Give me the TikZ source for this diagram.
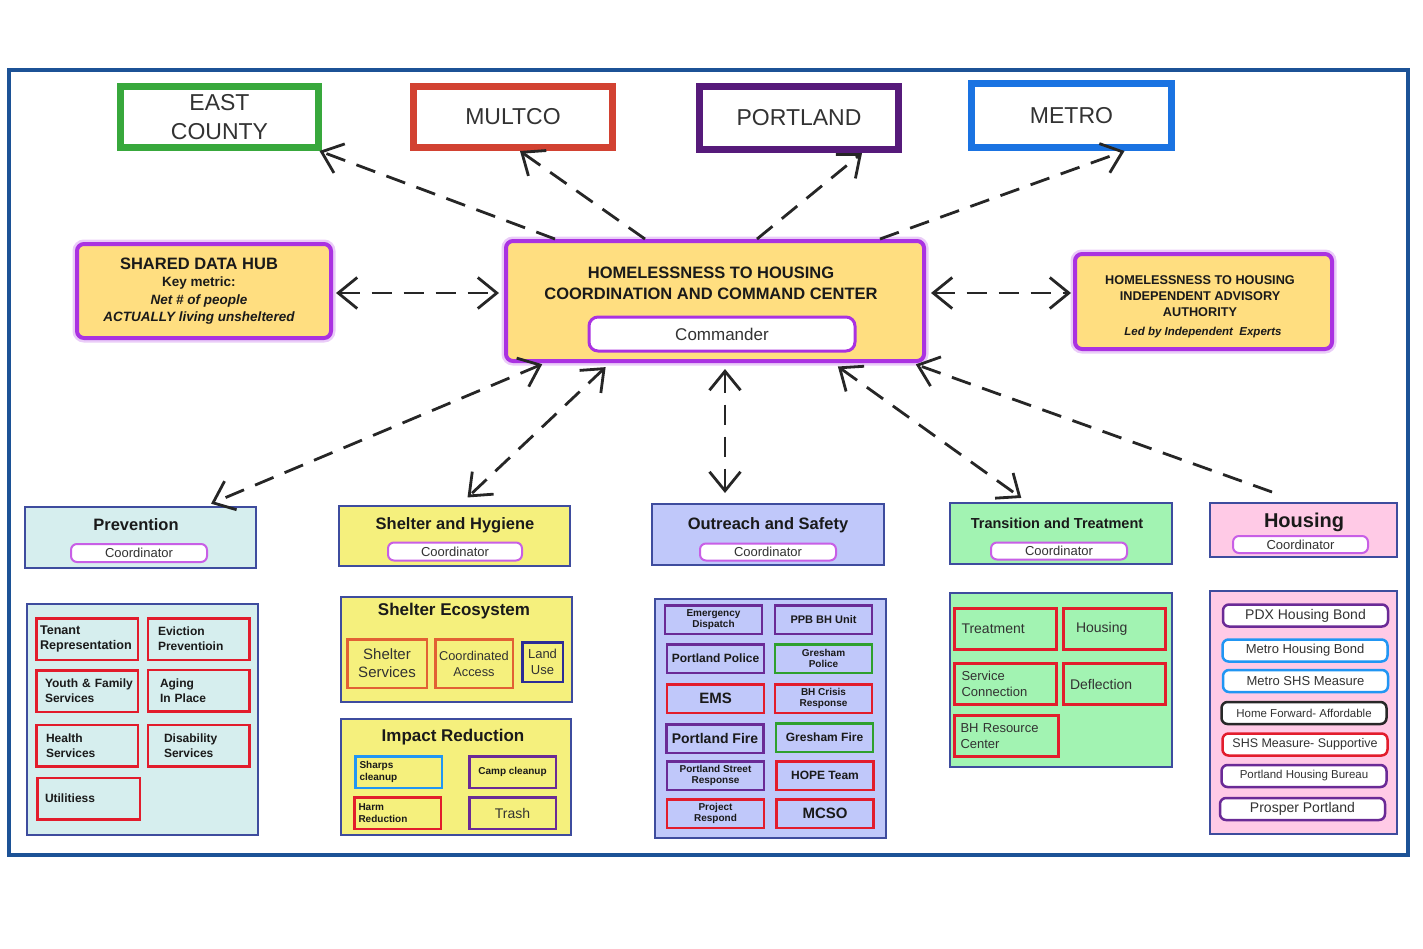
\documentclass[tikz,border=0pt]{standalone}
\usepackage{fontspec}
\setmainfont{Liberation Sans}
\usetikzlibrary{arrows.meta, positioning}

\definecolor{framblue}{RGB}{28,82,150}
\definecolor{ecgreen}{RGB}{56,168,60}
\definecolor{mured}{RGB}{210,66,50}
\definecolor{pdpurple}{RGB}{86,26,122}
\definecolor{meblue}{RGB}{26,115,226}
\definecolor{glow}{RGB}{170,50,225}
\definecolor{hubfill}{RGB}{255,222,128}
\definecolor{ink}{RGB}{26,26,26}
\definecolor{txtgray}{RGB}{50,50,50}
\definecolor{grpblue}{RGB}{62,76,158}
\definecolor{pvfill}{RGB}{214,238,238}
\definecolor{shfill}{RGB}{245,240,125}
\definecolor{oufill}{RGB}{192,200,250}
\definecolor{trfill}{RGB}{162,243,178}
\definecolor{hofill}{RGB}{255,202,230}
\definecolor{coordv}{RGB}{200,95,230}
\definecolor{itred}{RGB}{226,28,44}
\definecolor{itorange}{RGB}{226,96,52}
\definecolor{itnavy}{RGB}{44,44,150}
\definecolor{itblue}{RGB}{33,150,243}
\definecolor{itpurple}{RGB}{106,42,150}
\definecolor{itgreen}{RGB}{46,160,46}
\definecolor{itdark}{RGB}{40,40,40}

\newcommand{\sz}[2]{\fontsize{#1}{#2}\selectfont}
\hyphenpenalty=10000
\exhyphenpenalty=10000

\tikzset{
  wh/.style 2 args={minimum width=#1, minimum height=#2},
  toplevel/.style={draw=#1, line width=7pt, fill=white, minimum width=198pt,
    minimum height=61pt, inner sep=0pt, align=center, text=txtgray, font=\sz{23}{29}},
  hubbox/.style={draw=glow, line width=4pt, fill=hubfill, rounded corners=7pt,
    inner sep=0pt, preaction={draw=glow!25, line width=9pt}},
  grpbox/.style={draw=grpblue, line width=2pt, fill=#1, inner sep=0pt},
  ttl/.style={text=ink, font=\bfseries\sz{16.5}{19}},
  pill/.style={draw=#1, line width=2.5pt, fill=white, rounded corners=6pt,
    inner sep=0pt, text=txtgray},
  itm/.style={draw=#1, line width=2.5pt, inner sep=0pt, align=center, text=ink},
  link/.style={line width=2.8pt, dash pattern=on 20pt off 12pt, black!85},
}

\begin{document}
\begin{tikzpicture}[x=1pt, y=-1pt, >={Straight Barb[length=19pt,width=31pt]}]
\useasboundingbox (0,0) rectangle (1423,948);
\draw[framblue, line width=4pt] (9,70) rectangle (1408,855);

% partners
\node[toplevel=ecgreen] (ec) at (219.5,117) {EAST\\COUNTY};
\node[toplevel=mured, minimum width=199pt] (mu) at (513,117) {MULTCO};
\node[toplevel=pdpurple, minimum width=199pt, minimum height=63pt] (pd) at (799,118) {PORTLAND};
\node[toplevel=meblue, minimum width=200pt, minimum height=64pt] (me) at (1071.5,115.5) {METRO};

% command center
\node[hubbox, wh={418pt}{120pt}] (cc) at (715,301) {};
\node[align=center, text=ink, font=\bfseries\sz{16.5}{21}] (ccT) at (711,283)
  {HOMELESSNESS TO HOUSING\\COORDINATION AND COMMAND CENTER};
\node[pill=glow, line width=3pt, rounded corners=9pt, wh={266pt}{34pt}, font=\sz{17}{20}] (cmd) at (722,334) {Commander};

% data hub
\node[hubbox, wh={254pt}{94pt}] (hub) at (204,291) {};
\node[align=center, text=ink, font=\bfseries\sz{13.5}{17.5}] (hubT) at (199,291)
  {{\sz{16.5}{20}SHARED DATA HUB}\\Key metric:\\{\itshape Net \# of people}\\{\itshape ACTUALLY living unsheltered}};

% advisory
\node[hubbox, wh={257pt}{95pt}] (adv) at (1203.5,301.5) {};
\node[align=center, text=ink, font=\bfseries\sz{12.7}{16}] (advT) at (1200,296)
  {HOMELESSNESS TO HOUSING\\INDEPENDENT ADVISORY\\AUTHORITY};
\node[text=ink, font=\bfseries\itshape\sz{11.5}{14}] (advL) at (1203,333) {Led by Independent\ \ Experts};

% coordinators
\node[grpbox=pvfill, wh={231pt}{61pt}] (pv) at (140.5,537.5) {};
\node[ttl] (pvT) at (136,525) {Prevention};
\node[pill=coordv, line width=2pt, wh={136pt}{18pt}, font=\sz{13}{15}] (pvC) at (139,553) {Coordinator};

\node[grpbox=shfill, wh={231pt}{60pt}] (sh) at (454.5,536) {};
\node[ttl] (shT) at (455,525) {Shelter and Hygiene};
\node[pill=coordv, line width=2pt, wh={134pt}{18pt}, font=\sz{13}{15}] (shC) at (455,551.5) {Coordinator};

\node[grpbox=oufill, wh={232pt}{61pt}] (ou) at (768,534.5) {};
\node[ttl] (ouT) at (768,525) {Outreach and Safety};
\node[pill=coordv, line width=2pt, wh={136pt}{17pt}, font=\sz{13}{15}] (ouC) at (768,552) {Coordinator};

\node[grpbox=trfill, wh={222pt}{61pt}] (tr) at (1061,533.5) {};
\node[ttl, font=\bfseries\sz{14.5}{17}] (trT) at (1057,523) {Transition and Treatment};
\node[pill=coordv, line width=2pt, wh={136pt}{17pt}, font=\sz{13}{15}] (trC) at (1059,551) {Coordinator};

\node[grpbox=hofill, wh={187pt}{54pt}] (ho) at (1303.5,530) {};
\node[ttl, font=\bfseries\sz{20}{22}] (hoT) at (1304,522) {Housing};
\node[pill=coordv, line width=2pt, wh={135pt}{17pt}, font=\sz{13}{15}] (hoC) at (1300.5,544.5) {Coordinator};

% arrows
\draw[link,->] ([xshift=-160pt]cc.north) -- ([xshift=100pt]ec.south);
\draw[link,->] ([xshift=-70pt]cc.north) -- ([xshift=7pt]mu.south);
\draw[link,->] ([xshift=42pt]cc.north) -- ([xshift=63pt]pd.south);
\draw[link,->] ([xshift=165pt]cc.north) -- ([xshift=53pt]me.south);
\path ([yshift=-2pt]hub.east) coordinate (hubR) ([yshift=8pt]cc.east) coordinate (ccR);
\draw[link,<->, shorten <=3pt, shorten >=5pt] (hubR) -- (hubR -| cc.west);
\draw[link,<->, shorten <=5pt, shorten >=2pt] (ccR) -- (ccR -| adv.west);
\draw[link,<->, shorten <=3pt, shorten >=6pt] ([xshift=-170pt]cc.south) -- ([xshift=65pt]pv.north);
\draw[link,<->, shorten <=6pt, shorten >=11pt] ([xshift=-105pt]cc.south) -- ([xshift=5pt]sh.north);
\draw[link,<->, shorten <=6pt, shorten >=10pt] ([xshift=10pt]cc.south) -- ([xshift=-43pt]ou.north);
\draw[link,<->, shorten <=6pt, shorten >=7pt] ([xshift=118pt]cc.south) -- ([xshift=-34pt]tr.north);
\coordinate (hoEnd) at (1272,492);
\draw[link,->, shorten >=4pt] (hoEnd) -- ([xshift=197pt]cc.south);

% prevention programs
\node[grpbox=pvfill, wh={231pt}{231pt}] (pvc) at (142.5,719.5) {};
\begin{scope}[every node/.style={itm=itred, wh={101.5pt}{41.5pt}, text width=94pt, align=left, font=\bfseries\sz{12}{15}}]
\node[font=\bfseries\sz{12.6}{15}] (tnr) at (87,639) {Tenant\\Representation};
\node (evp) at (198.5,639) {\hspace{6.5pt}Eviction\\\hspace{6.5pt}Preventioin};
\node (yfs) at (87,691) {\hspace{5pt}Youth \& Family\\\hspace{5pt}Services};
\node (aip) at (198.5,690.5) {\hspace{8.5pt}Aging\\\hspace{8.5pt}In Place};
\node (hls) at (87,745.5) {\hspace{6pt}Health\\\hspace{6pt}Services};
\node (dsb) at (198.5,745.5) {\hspace{12.5pt}Disability\\\hspace{12.5pt}Services};
\node[minimum width=102.5pt] (utl) at (88.5,798.5) {\hspace{3.5pt}Utilitiess};
\end{scope}

% shelter programs
\node[grpbox=shfill, wh={231pt}{105pt}] (sec) at (456.5,649.5) {};
\node[ttl, font=\bfseries\sz{17}{19}] (secT) at (454,611) {Shelter Ecosystem};
\node[itm=itorange, wh={79.5pt}{48.5pt}, text=txtgray, font=\sz{15}{18}] (shs) at (387,663.5) {Shelter\\Services};
\node[itm=itorange, wh={77.5pt}{48.5pt}, text=txtgray, font=\sz{12.8}{16}] (cda) at (474,663.5) {Coordinated\\Access};
\node[itm=itnavy, wh={40.5pt}{39.5pt}, text=txtgray, font=\sz{13}{16}] (lnd) at (542.5,662) {Land\\Use};

\node[grpbox=shfill, wh={230pt}{116pt}] (irc) at (456,777) {};
\node[ttl, font=\bfseries\sz{17}{19}] (ircT) at (453,737) {Impact Reduction};
\node[itm=itblue, wh={86.5pt}{31.5pt}, text width=78pt, align=left, font=\bfseries\sz{10}{12}] (shp) at (398.5,772) {Sharps\\cleanup};
\node[itm=itpurple, wh={86.5pt}{31.5pt}, font=\bfseries\sz{10}{12}] (cmp) at (512.5,772) {Camp cleanup};
\node[itm=itred, wh={86.5pt}{31.5pt}, text width=78pt, align=left, font=\bfseries\sz{10}{12}] (hrm) at (397.5,813) {Harm\\Reduction};
\node[itm=itpurple, wh={86.5pt}{31.5pt}, text=txtgray, font=\sz{14}{16}] (tsh) at (512.5,813) {Trash};

% outreach programs
\node[grpbox=oufill, wh={231pt}{239pt}] (ouc) at (770.5,718.5) {};
\begin{scope}[every node/.style={wh={97pt}{28.5pt}}]
\node[itm=itpurple, font=\bfseries\sz{10}{11}] (edp) at (713.5,619.5) {Emergency\\Dispatch};
\node[itm=itpurple, font=\bfseries\sz{11}{13}] (ppb) at (823.5,619.5) {PPB BH Unit};
\node[itm=itpurple, font=\bfseries\sz{12}{14}] (ppo) at (715.5,658.5) {Portland Police};
\node[itm=itgreen, font=\bfseries\sz{10}{11}] (gpo) at (823.5,658.5) {Gresham\\Police};
\node[itm=itred, font=\bfseries\sz{15}{17}] (ems) at (715.5,698.5) {EMS};
\node[itm=itred, font=\bfseries\sz{10}{11}] (bhc) at (823.5,698.5) {BH Crisis\\Response};
\node[itm=itpurple, font=\bfseries\sz{14}{16}] (pfi) at (715,738.5) {Portland Fire};
\node[itm=itgreen, font=\bfseries\sz{12}{14}] (gfi) at (824.5,737.5) {Gresham Fire};
\node[itm=itpurple, font=\bfseries\sz{10}{11}] (psr) at (715.5,775.5) {Portland Street\\Response};
\node[itm=itred, font=\bfseries\sz{12}{14}] (hpt) at (825,775.5) {HOPE Team};
\node[itm=itred, font=\bfseries\sz{10}{11}] (prj) at (715.5,813.5) {Project\\Respond};
\node[itm=itred, font=\bfseries\sz{15}{17}] (mcs) at (825,813.5) {MCSO};
\end{scope}

% transition programs
\node[grpbox=trfill, wh={222pt}{174pt}] (trc) at (1061,680) {};
\begin{scope}[every node/.style={itm=itred, line width=3pt, wh={102pt}{41pt}, text=txtgray, text width=88pt, align=left}]
\node[font=\sz{14}{17}] (trt) at (1005.5,629) {Treatment};
\node[font=\sz{14}{17}] (hsg) at (1114,629) {\hspace{6pt}Housing};
\node[font=\sz{13}{16}] (scn) at (1005.5,684) {Service\\Connection};
\node[font=\sz{14}{17}] (dfl) at (1114,684) {Deflection};
\node[font=\sz{13}{16}, minimum width=104pt, text width=92pt] (bhr) at (1006.5,736) {BH Resource\\Center};
\end{scope}

% housing programs
\node[grpbox=hofill, wh={187pt}{243pt}] (hoc) at (1303.5,712.5) {};
\begin{scope}[every node/.style={wh={165pt}{22pt}}]
\node[pill=itpurple, font=\sz{14}{16}] (pdx) at (1305.5,615.5) {PDX Housing Bond};
\node[pill=itblue, font=\sz{13}{15}] (mhb) at (1305,650.5) {Metro Housing Bond};
\node[pill=itblue, font=\sz{13}{15}] (msh) at (1305.5,681) {Metro SHS Measure};
\node[pill=itdark, font=\sz{11.5}{14}] (hfa) at (1304,713) {Home Forward- Affordable};
\node[pill=itred, font=\sz{12.5}{15}] (ssp) at (1305,744.5) {SHS Measure- Supportive};
\node[pill=itpurple, font=\sz{11.5}{14}] (phb) at (1304,776) {Portland Housing Bureau};
\node[pill=itpurple, font=\sz{14}{16}] (psp) at (1302.5,809) {Prosper Portland};
\end{scope}
\end{tikzpicture}
\end{document}
